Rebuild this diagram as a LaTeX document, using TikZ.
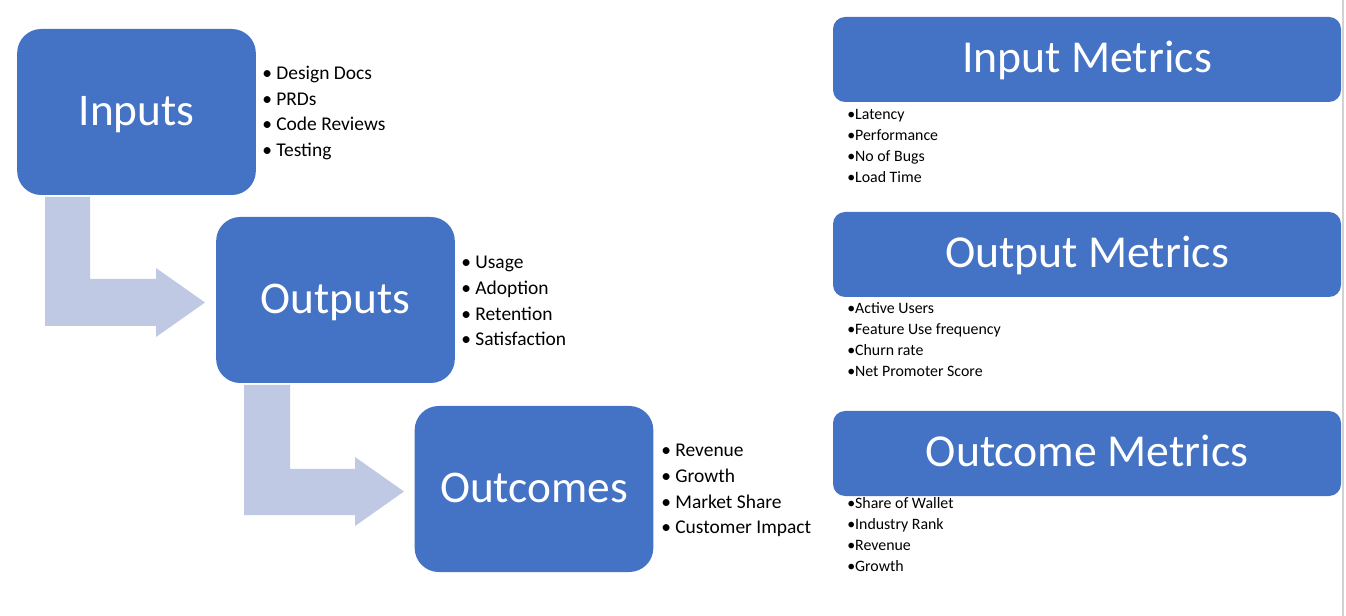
\documentclass[tikz,border=0pt]{standalone}
\usepackage{fontspec}
\setmainfont{Carlito}
\definecolor{boxblue}{HTML}{4472C4}
\definecolor{arrowblue}{RGB}{191,201,228}

\tikzset{
  stage/.style={fill=boxblue, rounded corners=18pt, minimum width=179pt, minimum height=124.5pt, text=white, inner sep=0pt, text height=22pt, text depth=2.4pt, font=\fontsize{34}{40}\selectfont},
  metric/.style={fill=boxblue, rounded corners=9pt, minimum width=381pt, minimum height=63.75pt, text=white, inner sep=0pt, text height=22pt, text depth=2.4pt, font=\fontsize{34.3}{40}\selectfont},
  item/.style={anchor=west, inner sep=0pt, text height=1.5ex, text depth=0.25ex, font=\fontsize{14.6}{17}\selectfont},
  smallitem/.style={anchor=west, inner sep=0pt, text height=1.5ex, text depth=0.25ex, font=\fontsize{11.9}{14}\selectfont}
}

\begin{document}
\begin{tikzpicture}[x=0.75pt,y=0.75pt,yscale=-1,xscale=1]
        \useasboundingbox (0,0) rectangle (1346,616);

        %Shape: Bent Arrows
        \fill [arrowblue] (45,197) -- (90,197) -- (90,279) -- (156,279) -- (156,268) -- (205,302.5) -- (156,337) -- (156,326) -- (45,326) -- cycle ;
        \fill [arrowblue] (244,385) -- (290,385) -- (290,469) -- (355,469) -- (355,457) -- (404,491.5) -- (355,526) -- (355,515) -- (244,515) -- cycle ;

        %Shape: Stages
        \node [stage] (in) at (136.5,112) {Inputs};
        \node [stage] (out) at (335.5,300) {Outputs};
        \node [stage] (outc) at (534,489) {Outcomes};

        %Shape: Metrics
        \node [metric] (inm) at (1087,59.5) {Input Metrics};
        \node [metric] (outm) at (1087,254.5) {Output Metrics};
        \node [metric] (outcm) at (1087,453.5) {Outcome Metrics};

        % Text Node
        \foreach \txt [count=\i] in {Design Docs, PRDs, Code Reviews, Testing}
          \node [item] (in-\i) at (262,{76+25.5*(\i-1)}) {\textbullet\ \txt};
        \foreach \txt [count=\i] in {Usage, Adoption, Retention, Satisfaction}
          \node [item] (out-\i) at (461,{265+25.6*(\i-1)}) {\textbullet\ \txt};
        \foreach \txt [count=\i] in {Revenue, Growth, Market Share, Customer Impact}
          \node [item] (outc-\i) at (661,{453+25.6*(\i-1)}) {\textbullet\ \txt};

        % Text Node
        \foreach \txt [count=\i] in {Latency, Performance, No of Bugs, Load Time}
          \node [smallitem] (inm-\i) at (847,{116+21*(\i-1)}) {\textbullet\txt};
        \foreach \txt [count=\i] in {Active Users, Feature Use frequency, Churn rate, Net Promoter Score}
          \node [smallitem] (outm-\i) at (847,{310+21*(\i-1)}) {\textbullet\txt};
        \foreach \txt [count=\i] in {Share of Wallet, Industry Rank, Revenue, Growth}
          \node [smallitem] (outcm-\i) at (847,{505+21*(\i-1)}) {\textbullet\txt};

        %Straight Lines
        \draw [gray!35, line width=1.5pt] (1342.5,0) -- (1342.5,616) ;
\end{tikzpicture}
\end{document}
